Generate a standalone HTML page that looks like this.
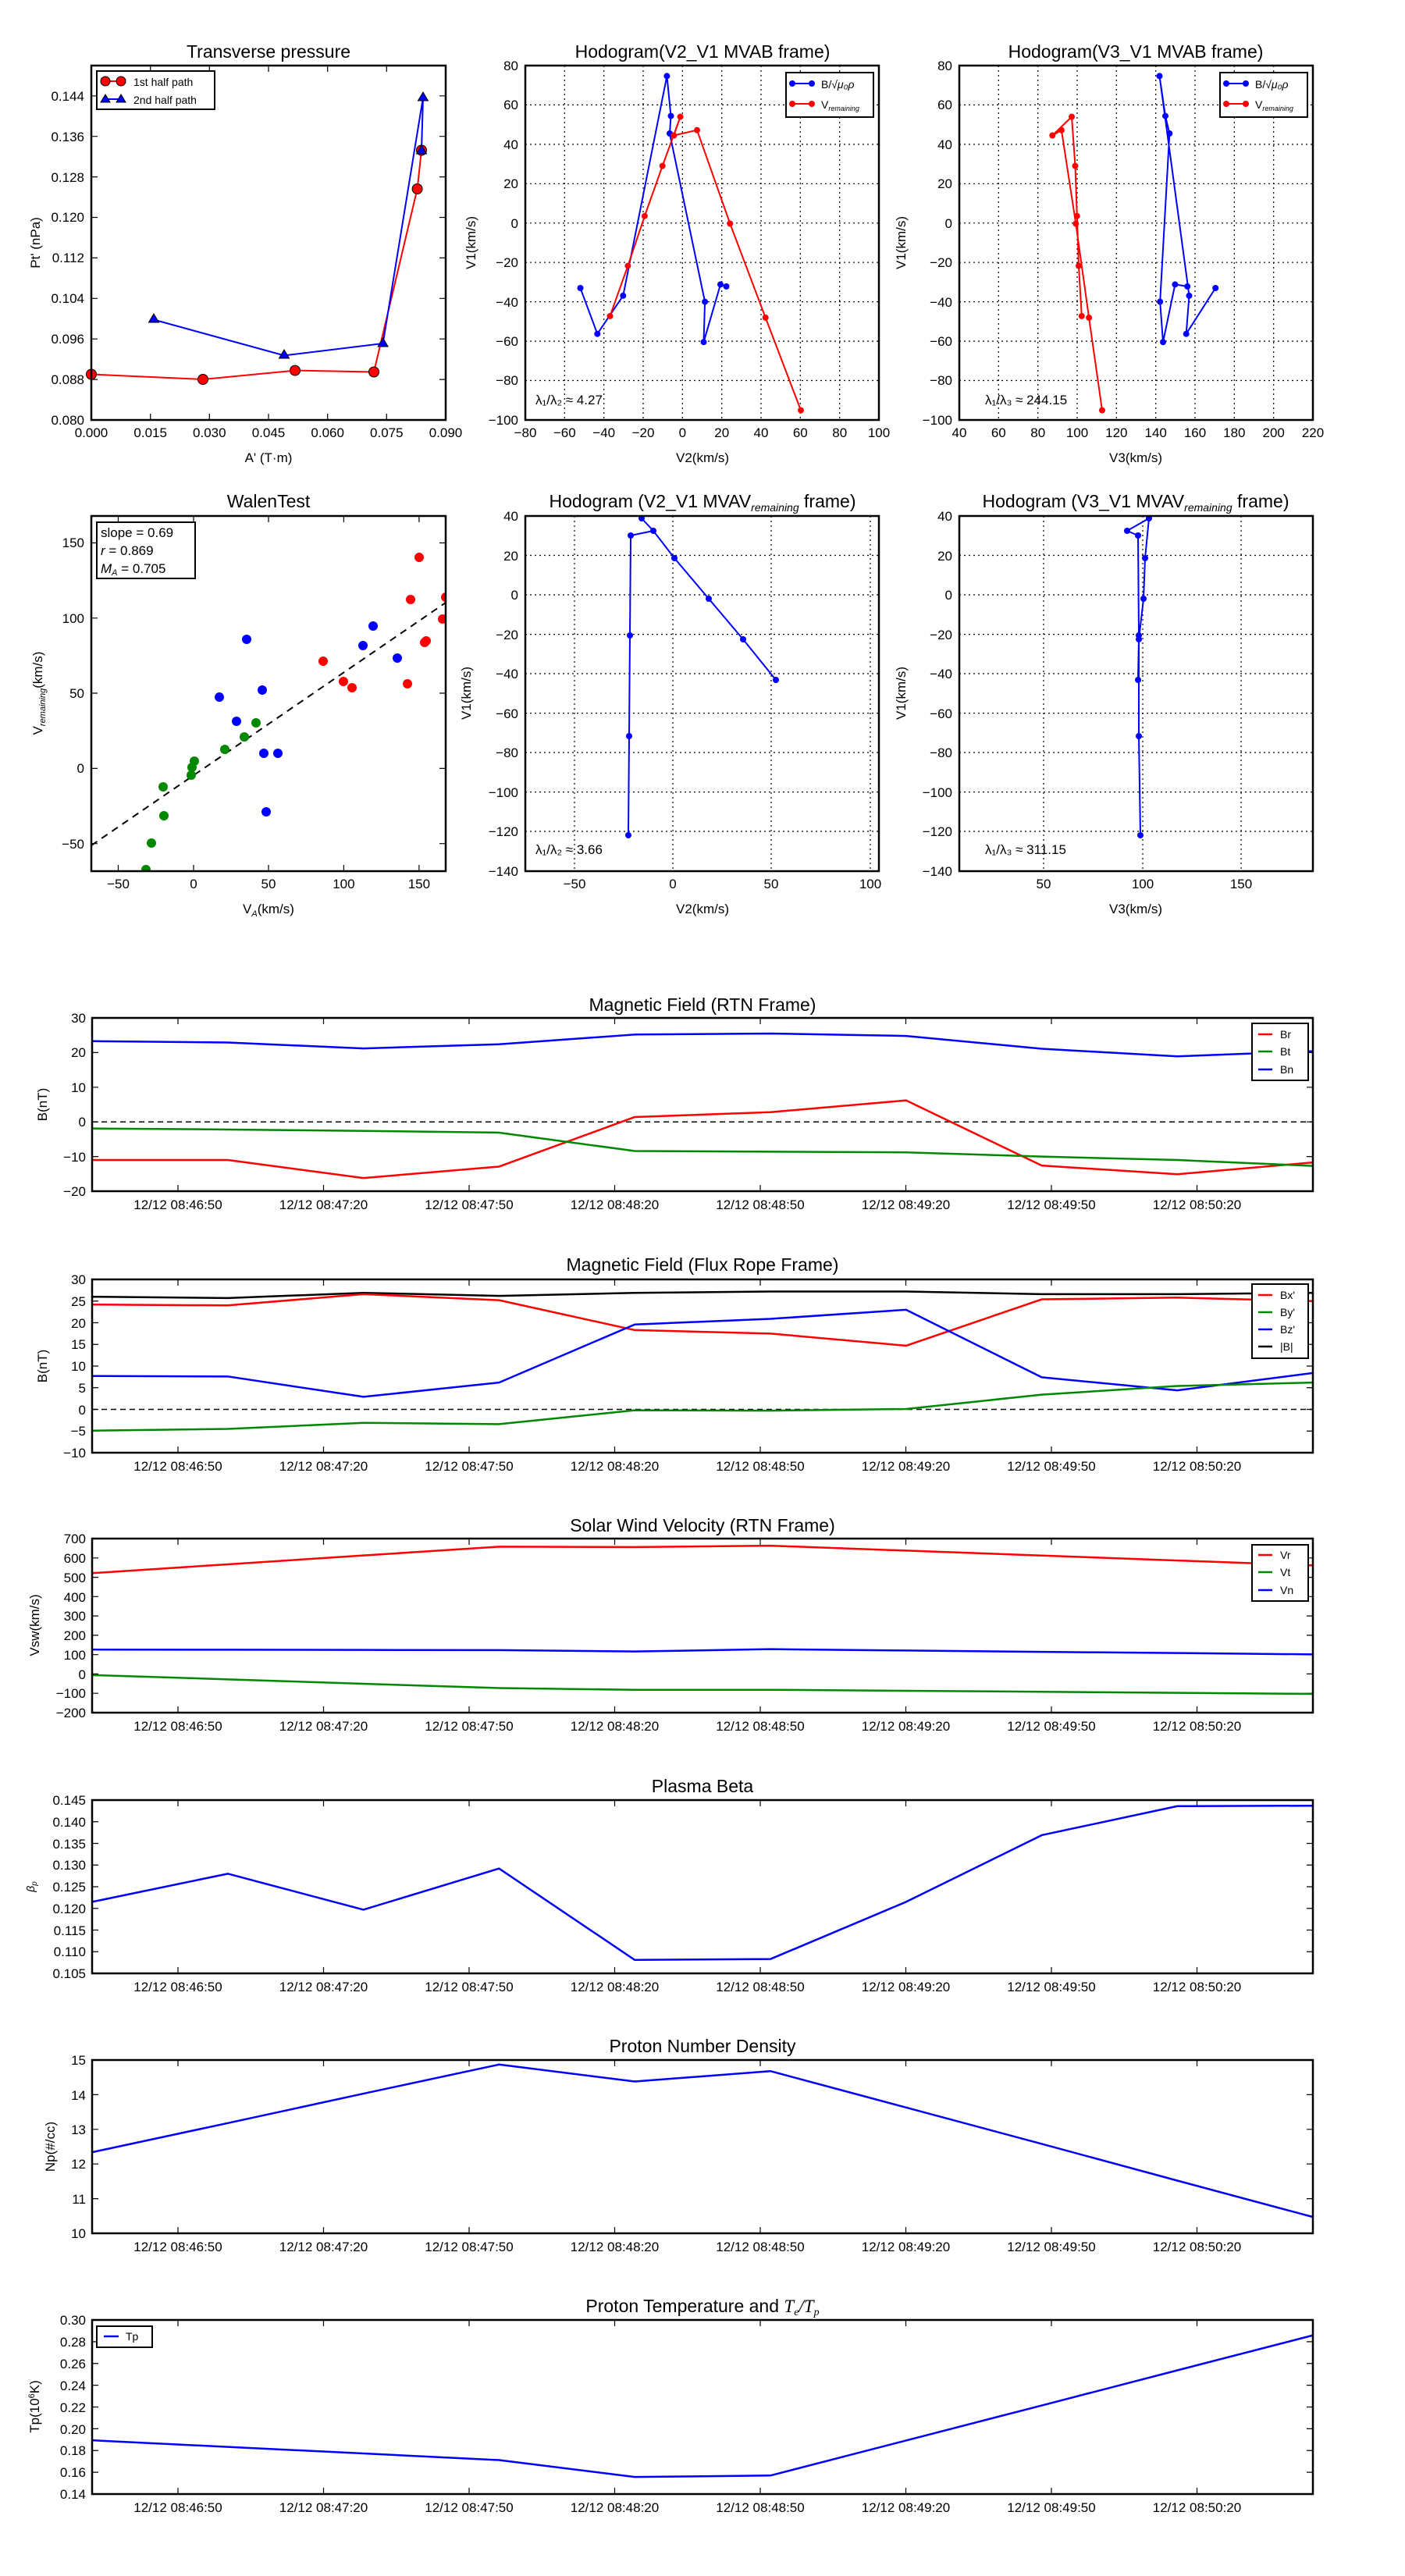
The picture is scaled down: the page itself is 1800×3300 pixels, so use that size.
<!DOCTYPE html>
<html><head><meta charset="utf-8"><style>
html,body{margin:0;padding:0;background:#fff}
svg{display:block}
text{font-family:"Liberation Sans","DejaVu Sans",sans-serif;fill:#000}
.t{font-size:17px}
.ti{font-size:23px}
.ax{fill:none;stroke:#000;stroke-width:2.5}
.tk{stroke:#000;stroke-width:1.2;fill:none}
.gd{stroke:#000;stroke-width:1.2;stroke-dasharray:2,4;fill:none}
.ln{fill:none;stroke-width:2.5;vector-effect:non-scaling-stroke;stroke-linejoin:round}
.th{fill:none;stroke-width:2;stroke-linejoin:round}
</style></head><body>
<svg width="1800" height="3300" viewBox="0 0 1800 3300" xmlns="http://www.w3.org/2000/svg">
<rect width="1800" height="3300" fill="#fff"/>

<!-- ===== Transverse pressure ===== -->
<text class="ti" x="344" y="74" text-anchor="middle">Transverse pressure</text>
<path class="tk" d="M192.7,538v-8M268.3,538v-8M344,538v-8M419.7,538v-8M495.3,538v-8M192.7,84v8M268.3,84v8M344,84v8M419.7,84v8M495.3,84v8M117,486.1h8M117,434.2h8M117,382.3h8M117,330.4h8M117,278.5h8M117,226.6h8M117,174.7h8M117,122.8h8M571,486.1h-8M571,434.2h-8M571,382.3h-8M571,330.4h-8M571,278.5h-8M571,226.6h-8M571,174.7h-8M571,122.8h-8"/>
<g class="t" text-anchor="end">
<text x="108" y="544">0.080</text><text x="108" y="492">0.088</text><text x="108" y="440">0.096</text><text x="108" y="388">0.104</text><text x="108" y="336">0.112</text><text x="108" y="284">0.120</text><text x="108" y="233">0.128</text><text x="108" y="181">0.136</text><text x="108" y="129">0.144</text>
</g>
<g class="t" text-anchor="middle">
<text x="117" y="560">0.000</text><text x="192.7" y="560">0.015</text><text x="268.3" y="560">0.030</text><text x="344" y="560">0.045</text><text x="419.7" y="560">0.060</text><text x="495.3" y="560">0.075</text><text x="571" y="560">0.090</text>
<text x="344" y="592">A' (T·m)</text>
</g>
<text class="t" x="0" y="0" text-anchor="middle" transform="translate(51,311) rotate(-90)">Pt' (nPa)</text>
<polyline class="th" stroke="#f00" points="117,479.5 260,486 378,474.6 479,476.5 534.6,242 540,192.5"/>
<polyline class="th" stroke="#00f" points="197,409.5 364,455.4 490.6,440 542,125 540,192.5"/>
<g fill="#f00" stroke="#000" stroke-width="1"><circle cx="117" cy="479.5" r="6.5"/><circle cx="260" cy="486" r="6.5"/><circle cx="378" cy="474.6" r="6.5"/><circle cx="479" cy="476.5" r="6.5"/><circle cx="534.6" cy="242" r="6.5"/><circle cx="540" cy="192.5" r="6.5"/></g>
<g fill="#00f" stroke="#000" stroke-width="1"><path d="M197,402l6.5,11h-13z"/><path d="M364,448l6.5,11h-13z"/><path d="M490.6,433l6.5,11h-13z"/><path d="M542,118l6.5,11h-13z"/><path d="M540,186l6.5,11h-13z"/></g>
<rect x="124" y="91" width="151" height="49" fill="#fff" stroke="#000" stroke-width="2"/>
<line x1="135" y1="104" x2="155" y2="104" stroke="#f00" stroke-width="2"/><circle cx="135" cy="104" r="6" fill="#f00" stroke="#000"/><circle cx="155" cy="104" r="6" fill="#f00" stroke="#000"/>
<line x1="135" y1="127" x2="155" y2="127" stroke="#00f" stroke-width="2"/><path d="M135,121l6,10h-12zM155,121l6,10h-12z" fill="#00f" stroke="#000"/>
<text x="171" y="110" font-size="14">1st half path</text><text x="171" y="133" font-size="14">2nd half path</text>
<rect class="ax" x="117" y="84" width="454" height="454"/>

<!-- ===== Hodogram V2_V1 MVAB ===== -->
<text class="ti" x="900" y="74" text-anchor="middle">Hodogram(V2_V1 MVAB frame)</text>
<path class="gd" d="M723.3,84V538M773.7,84V538M824,84V538M874.3,84V538M924.7,84V538M975,84V538M1025.3,84V538M1075.7,84V538M673,134.4H1126M673,184.9H1126M673,235.3H1126M673,285.8H1126M673,336.2H1126M673,386.6H1126M673,437.1H1126M673,487.5H1126"/>
<g class="t" text-anchor="end">
<text x="664" y="90">80</text><text x="664" y="140">60</text><text x="664" y="191">40</text><text x="664" y="241">20</text><text x="664" y="292">0</text><text x="664" y="342">−20</text><text x="664" y="393">−40</text><text x="664" y="443">−60</text><text x="664" y="493">−80</text><text x="664" y="544">−100</text>
</g>
<g class="t" text-anchor="middle">
<text x="673" y="560">−80</text><text x="723.3" y="560">−60</text><text x="773.7" y="560">−40</text><text x="824" y="560">−20</text><text x="874.3" y="560">0</text><text x="924.7" y="560">20</text><text x="975" y="560">40</text><text x="1025.3" y="560">60</text><text x="1075.7" y="560">80</text><text x="1126" y="560">100</text>
<text x="900" y="592">V2(km/s)</text>
</g>
<text class="t" text-anchor="middle" transform="translate(609,311) rotate(-90)">V1(km/s)</text>
<polyline class="th" stroke="#00f" points="743.5,369 765.3,427.7 798.3,378.8 854.4,97.4 859.5,148.6 858,171 903.1,386.6 901.5,438.2 923,364.4 930.5,366.9"/>
<polyline class="th" stroke="#f00" points="781.5,404.9 804.4,340.6 825.9,276.7 848.7,212.6 871.6,149.6 863.3,173.5 893,166.7 935.3,286.5 980.7,406.9 1026,525.6"/>
<g fill="#00f"><circle cx="743.5" cy="369" r="4"/><circle cx="765.3" cy="427.7" r="4"/><circle cx="798.3" cy="378.8" r="4"/><circle cx="854.4" cy="97.4" r="4"/><circle cx="859.5" cy="148.6" r="4"/><circle cx="858" cy="171" r="4"/><circle cx="903.1" cy="386.6" r="4"/><circle cx="901.5" cy="438.2" r="4"/><circle cx="923" cy="364.4" r="4"/><circle cx="930.5" cy="366.9" r="4"/></g>
<g fill="#f00"><circle cx="781.5" cy="404.9" r="4"/><circle cx="804.4" cy="340.6" r="4"/><circle cx="825.9" cy="276.7" r="4"/><circle cx="848.7" cy="212.6" r="4"/><circle cx="871.6" cy="149.6" r="4"/><circle cx="863.3" cy="173.5" r="4"/><circle cx="893" cy="166.7" r="4"/><circle cx="935.3" cy="286.5" r="4"/><circle cx="980.7" cy="406.9" r="4"/><circle cx="1026" cy="525.6" r="4"/></g>
<text x="686" y="518" font-size="17">λ₁/λ₂ ≈ 4.27</text>
<rect x="1007" y="93" width="112" height="57" fill="#fff" stroke="#000" stroke-width="2"/>
<line x1="1015" y1="107" x2="1040" y2="107" stroke="#00f" stroke-width="2"/><circle cx="1015" cy="107" r="4" fill="#00f"/><circle cx="1040" cy="107" r="4" fill="#00f"/>
<line x1="1015" y1="133" x2="1040" y2="133" stroke="#f00" stroke-width="2"/><circle cx="1015" cy="133" r="4" fill="#f00"/><circle cx="1040" cy="133" r="4" fill="#f00"/>
<text x="1052" y="113" font-size="14">B/√<tspan font-style="italic">μ₀ρ</tspan></text><text x="1052" y="139" font-size="14">V<tspan font-size="9" font-style="italic" dy="3">remaining</tspan></text>
<rect class="ax" x="673" y="84" width="453" height="454"/>

<!-- ===== Hodogram V3_V1 MVAB ===== -->
<text class="ti" x="1455" y="74" text-anchor="middle">Hodogram(V3_V1 MVAB frame)</text>
<path class="gd" d="M1279.3,84V538M1329.7,84V538M1380,84V538M1430.3,84V538M1480.7,84V538M1531,84V538M1581.3,84V538M1631.7,84V538M1229,134.4H1682M1229,184.9H1682M1229,235.3H1682M1229,285.8H1682M1229,336.2H1682M1229,386.6H1682M1229,437.1H1682M1229,487.5H1682"/>
<g class="t" text-anchor="end">
<text x="1220" y="90">80</text><text x="1220" y="140">60</text><text x="1220" y="191">40</text><text x="1220" y="241">20</text><text x="1220" y="292">0</text><text x="1220" y="342">−20</text><text x="1220" y="393">−40</text><text x="1220" y="443">−60</text><text x="1220" y="493">−80</text><text x="1220" y="544">−100</text>
</g>
<g class="t" text-anchor="middle">
<text x="1229" y="560">40</text><text x="1279.3" y="560">60</text><text x="1329.7" y="560">80</text><text x="1380" y="560">100</text><text x="1430.3" y="560">120</text><text x="1480.7" y="560">140</text><text x="1531" y="560">160</text><text x="1581.3" y="560">180</text><text x="1631.7" y="560">200</text><text x="1682" y="560">220</text>
<text x="1455" y="592">V3(km/s)</text>
</g>
<text class="t" text-anchor="middle" transform="translate(1160,311) rotate(-90)">V1(km/s)</text>
<polyline class="th" stroke="#00f" points="1557.2,369 1519.7,427.7 1523.5,378.8 1485.5,97.4 1493,148.6 1498.3,171 1486.2,386.6 1490,438.2 1505.4,364.4 1521.2,366.9"/>
<polyline class="th" stroke="#f00" points="1385.8,404.9 1382,340.6 1379.8,276.7 1377.5,212.6 1373,149.6 1348.3,173.5 1359.9,166.7 1378.3,286.5 1395.1,406.9 1412,525.6"/>
<g fill="#00f"><circle cx="1557.2" cy="369" r="4"/><circle cx="1519.7" cy="427.7" r="4"/><circle cx="1523.5" cy="378.8" r="4"/><circle cx="1485.5" cy="97.4" r="4"/><circle cx="1493" cy="148.6" r="4"/><circle cx="1498.3" cy="171" r="4"/><circle cx="1486.2" cy="386.6" r="4"/><circle cx="1490" cy="438.2" r="4"/><circle cx="1505.4" cy="364.4" r="4"/><circle cx="1521.2" cy="366.9" r="4"/></g>
<g fill="#f00"><circle cx="1385.8" cy="404.9" r="4"/><circle cx="1382" cy="340.6" r="4"/><circle cx="1379.8" cy="276.7" r="4"/><circle cx="1377.5" cy="212.6" r="4"/><circle cx="1373" cy="149.6" r="4"/><circle cx="1348.3" cy="173.5" r="4"/><circle cx="1359.9" cy="166.7" r="4"/><circle cx="1378.3" cy="286.5" r="4"/><circle cx="1395.1" cy="406.9" r="4"/><circle cx="1412" cy="525.6" r="4"/></g>
<text x="1262" y="518" font-size="17">λ₁/λ₃ ≈ 244.15</text>
<rect x="1563" y="93" width="112" height="57" fill="#fff" stroke="#000" stroke-width="2"/>
<line x1="1571" y1="107" x2="1596" y2="107" stroke="#00f" stroke-width="2"/><circle cx="1571" cy="107" r="4" fill="#00f"/><circle cx="1596" cy="107" r="4" fill="#00f"/>
<line x1="1571" y1="133" x2="1596" y2="133" stroke="#f00" stroke-width="2"/><circle cx="1571" cy="133" r="4" fill="#f00"/><circle cx="1596" cy="133" r="4" fill="#f00"/>
<text x="1608" y="113" font-size="14">B/√<tspan font-style="italic">μ₀ρ</tspan></text><text x="1608" y="139" font-size="14">V<tspan font-size="9" font-style="italic" dy="3">remaining</tspan></text>
<rect class="ax" x="1229" y="84" width="453" height="454"/>

<!-- ===== WalenTest ===== -->
<text class="ti" x="344" y="650" text-anchor="middle">WalenTest</text>
<path class="tk" d="M151.5,1116v-8M248,1116v-8M344,1116v-8M440.4,1116v-8M536.9,1116v-8M151.5,661v8M248,661v8M344,661v8M440.4,661v8M536.9,661v8M117,695.5h8M117,791.8h8M117,888h8M117,984.4h8M117,1080.7h8M571,695.5h-8M571,791.8h-8M571,888h-8M571,984.4h-8M571,1080.7h-8"/>
<g class="t" text-anchor="end">
<text x="108" y="701">150</text><text x="108" y="798">100</text><text x="108" y="894">50</text><text x="108" y="990">0</text><text x="108" y="1087">−50</text>
</g>
<g class="t" text-anchor="middle">
<text x="151.5" y="1138">−50</text><text x="248" y="1138">0</text><text x="344" y="1138">50</text><text x="440.4" y="1138">100</text><text x="536.9" y="1138">150</text>
<text x="344" y="1170">V<tspan font-size="11" dy="4" font-style="italic">A</tspan><tspan dy="-4">(km/s)</tspan></text>
</g>
<text class="t" text-anchor="middle" transform="translate(54,888) rotate(-90)">V<tspan font-size="11" font-style="italic" dy="4">remaining</tspan><tspan dy="-4">(km/s)</tspan></text>
<svg x="117" y="661" width="454" height="455" overflow="hidden">
<g transform="translate(-117,-661)">
<line x1="117" y1="1083" x2="571" y2="772" stroke="#000" stroke-width="2" stroke-dasharray="9,7"/>
<g fill="#f00"><circle cx="537" cy="714" r="6"/><circle cx="526" cy="768" r="6"/><circle cx="571" cy="765" r="6"/><circle cx="567" cy="793" r="6"/><circle cx="546" cy="821" r="6"/><circle cx="544" cy="823" r="6"/><circle cx="414" cy="847" r="6"/><circle cx="440" cy="873" r="6"/><circle cx="451" cy="881" r="6"/><circle cx="522" cy="876" r="6"/></g>
<g fill="#00f"><circle cx="316" cy="819" r="6"/><circle cx="478" cy="802" r="6"/><circle cx="465" cy="827" r="6"/><circle cx="509" cy="843" r="6"/><circle cx="336" cy="884" r="6"/><circle cx="281" cy="893" r="6"/><circle cx="303" cy="924" r="6"/><circle cx="338" cy="965" r="6"/><circle cx="356" cy="965" r="6"/><circle cx="341" cy="1040" r="6"/></g>
<g fill="#080"><circle cx="328" cy="926" r="6"/><circle cx="313" cy="944" r="6"/><circle cx="288" cy="960" r="6"/><circle cx="249" cy="975" r="6"/><circle cx="246" cy="983" r="6"/><circle cx="245" cy="993" r="6"/><circle cx="209" cy="1008" r="6"/><circle cx="210" cy="1045" r="6"/><circle cx="194" cy="1080" r="6"/><circle cx="187" cy="1114" r="6"/></g>
</g></svg>
<rect x="124" y="669" width="126" height="72" fill="#fff" stroke="#000" stroke-width="2"/>
<text x="129" y="688" font-size="17">slope = 0.69</text>
<text x="129" y="711" font-size="17"><tspan font-style="italic">r</tspan> = 0.869</text>
<text x="129" y="734" font-size="17"><tspan font-style="italic">M<tspan font-size="11" dy="3">A</tspan></tspan><tspan dy="-3"> = 0.705</tspan></text>
<rect class="ax" x="117" y="661" width="454" height="455"/>

<!-- ===== Hodogram V2_V1 MVAV ===== -->
<text class="ti" x="900" y="650" text-anchor="middle">Hodogram (V2_V1 MVAV<tspan font-size="14" font-style="italic" dy="5">remaining</tspan><tspan dy="-5"> frame)</tspan></text>
<path class="gd" d="M736,661V1116M862,661V1116M988,661V1116M1115,661V1116M673,711.5H1126M673,762H1126M673,812.6H1126M673,863H1126M673,913.6H1126M673,964H1126M673,1014.6H1126M673,1065H1126"/>
<g class="t" text-anchor="end">
<text x="664" y="667">40</text><text x="664" y="718">20</text><text x="664" y="768">0</text><text x="664" y="819">−20</text><text x="664" y="869">−40</text><text x="664" y="920">−60</text><text x="664" y="970">−80</text><text x="664" y="1021">−100</text><text x="664" y="1071">−120</text><text x="664" y="1122">−140</text>
</g>
<g class="t" text-anchor="middle">
<text x="736" y="1138">−50</text><text x="862" y="1138">0</text><text x="988" y="1138">50</text><text x="1115" y="1138">100</text>
<text x="900" y="1170">V2(km/s)</text>
</g>
<text class="t" text-anchor="middle" transform="translate(603,888) rotate(-90)">V1(km/s)</text>
<polyline class="th" stroke="#00f" points="805,1070 806,943 807,814 808,686 837,680 822,664 837,680 864,715 908,767 952,819 994,871"/>
<g fill="#00f"><circle cx="805" cy="1070" r="4"/><circle cx="806" cy="943" r="4"/><circle cx="807" cy="814" r="4"/><circle cx="808" cy="686" r="4"/><circle cx="837" cy="680" r="4"/><circle cx="822" cy="664" r="4"/><circle cx="864" cy="715" r="4"/><circle cx="908" cy="767" r="4"/><circle cx="952" cy="819" r="4"/><circle cx="994" cy="871" r="4"/></g>
<text x="686" y="1094" font-size="17">λ₁/λ₂ ≈ 3.66</text>
<rect class="ax" x="673" y="661" width="453" height="455"/>

<!-- ===== Hodogram V3_V1 MVAV ===== -->
<text class="ti" x="1455" y="650" text-anchor="middle">Hodogram (V3_V1 MVAV<tspan font-size="14" font-style="italic" dy="5">remaining</tspan><tspan dy="-5"> frame)</tspan></text>
<path class="gd" d="M1337,661V1116M1464,661V1116M1590,661V1116M1229,711.5H1682M1229,762H1682M1229,812.6H1682M1229,863H1682M1229,913.6H1682M1229,964H1682M1229,1014.6H1682M1229,1065H1682"/>
<g class="t" text-anchor="end">
<text x="1220" y="667">40</text><text x="1220" y="718">20</text><text x="1220" y="768">0</text><text x="1220" y="819">−20</text><text x="1220" y="869">−40</text><text x="1220" y="920">−60</text><text x="1220" y="970">−80</text><text x="1220" y="1021">−100</text><text x="1220" y="1071">−120</text><text x="1220" y="1122">−140</text>
</g>
<g class="t" text-anchor="middle">
<text x="1337" y="1138">50</text><text x="1464" y="1138">100</text><text x="1590" y="1138">150</text>
<text x="1455" y="1170">V3(km/s)</text>
</g>
<text class="t" text-anchor="middle" transform="translate(1160,888) rotate(-90)">V1(km/s)</text>
<polyline class="th" stroke="#00f" points="1461,1070 1459,943 1459,814 1458,686 1444,680 1472,664 1467,715 1465,767 1459,819 1458,871"/>
<g fill="#00f"><circle cx="1461" cy="1070" r="4"/><circle cx="1459" cy="943" r="4"/><circle cx="1459" cy="814" r="4"/><circle cx="1458" cy="686" r="4"/><circle cx="1444" cy="680" r="4"/><circle cx="1472" cy="664" r="4"/><circle cx="1467" cy="715" r="4"/><circle cx="1465" cy="767" r="4"/><circle cx="1459" cy="819" r="4"/><circle cx="1458" cy="871" r="4"/></g>
<text x="1262" y="1094" font-size="17">λ₁/λ₃ ≈ 311.15</text>
<rect class="ax" x="1229" y="661" width="453" height="455"/>

<!-- ===== Time series panels ===== -->
<defs>
<clipPath id="c1"><rect x="118" y="1304" width="1564" height="222"/></clipPath>
<clipPath id="c2"><rect x="118" y="1639" width="1564" height="222"/></clipPath>
<clipPath id="c3"><rect x="118" y="1971" width="1564" height="223"/></clipPath>
<clipPath id="c4"><rect x="118" y="2306" width="1564" height="222"/></clipPath>
<clipPath id="c5"><rect x="118" y="2639" width="1564" height="222"/></clipPath>
<clipPath id="c6"><rect x="118" y="2972" width="1564" height="223"/></clipPath>
</defs>

<!-- Panel 1 -->
<text class="ti" x="900" y="1295" text-anchor="middle">Magnetic Field (RTN Frame)</text>
<path class="tk" d="M228,1526v-8M414.5,1526v-8M601,1526v-8M787.5,1526v-8M974,1526v-8M1160.5,1526v-8M1347,1526v-8M1533.5,1526v-8M228,1304v8M414.5,1304v8M601,1304v8M787.5,1304v8M974,1304v8M1160.5,1304v8M1347,1304v8M1533.5,1304v8M118,1481.6h8M118,1437.2h8M118,1392.8h8M118,1348.4h8M1682,1481.6h-8M1682,1437.2h-8M1682,1392.8h-8M1682,1348.4h-8"/>
<line x1="118" y1="1437.2" x2="1682" y2="1437.2" stroke="#000" stroke-width="1.5" stroke-dasharray="7,5"/>
<g clip-path="url(#c1)"><g transform="translate(118,1437.2) scale(173.8,-4.44)">
<polyline class="ln" stroke="#00f" points="0,23.3 1,22.9 2,21.2 3,22.4 4,25.2 5,25.5 6,24.8 7,21.1 8,18.9 9,20.4"/>
<polyline class="ln" stroke="#f00" points="0,-11 1,-11 2,-16.2 3,-12.9 4,1.4 5,2.8 6,6.2 7,-12.6 8,-15.1 9,-11.7"/>
<polyline class="ln" stroke="#080" points="0,-1.9 1,-2.2 2,-2.6 3,-3.1 4,-8.4 5,-8.6 6,-8.8 7,-10 8,-11 9,-12.7"/>
</g></g>
<g class="t" text-anchor="end"><text x="110" y="1532">−20</text><text x="110" y="1488">−10</text><text x="110" y="1443">0</text><text x="110" y="1399">10</text><text x="110" y="1354">20</text><text x="110" y="1310">30</text></g>
<text class="t" text-anchor="middle" transform="translate(60,1415) rotate(-90)">B(nT)</text>
<rect x="1604" y="1311" width="72" height="73" fill="#fff" stroke="#000" stroke-width="2"/>
<g stroke-width="2.5"><line x1="1612" y1="1325" x2="1630" y2="1325" stroke="#f00"/><line x1="1612" y1="1347" x2="1630" y2="1347" stroke="#080"/><line x1="1612" y1="1370" x2="1630" y2="1370" stroke="#00f"/></g>
<g font-size="14"><text x="1640" y="1330">Br</text><text x="1640" y="1352">Bt</text><text x="1640" y="1375">Bn</text></g>
<rect class="ax" x="118" y="1304" width="1564" height="222"/>
<g class="t" text-anchor="middle"><text x="228" y="1549">12/12 08:46:50</text><text x="414.5" y="1549">12/12 08:47:20</text><text x="601" y="1549">12/12 08:47:50</text><text x="787.5" y="1549">12/12 08:48:20</text><text x="974" y="1549">12/12 08:48:50</text><text x="1160.5" y="1549">12/12 08:49:20</text><text x="1347" y="1549">12/12 08:49:50</text><text x="1533.5" y="1549">12/12 08:50:20</text></g>

<!-- Panel 2 -->
<text class="ti" x="900" y="1628" text-anchor="middle">Magnetic Field (Flux Rope Frame)</text>
<path class="tk" d="M228,1861v-8M414.5,1861v-8M601,1861v-8M787.5,1861v-8M974,1861v-8M1160.5,1861v-8M1347,1861v-8M1533.5,1861v-8M228,1639v8M414.5,1639v8M601,1639v8M787.5,1639v8M974,1639v8M1160.5,1639v8M1347,1639v8M1533.5,1639v8M118,1833.25h8M118,1805.5h8M118,1777.75h8M118,1750h8M118,1722.25h8M118,1694.5h8M118,1666.75h8M1682,1833.25h-8M1682,1805.5h-8M1682,1777.75h-8M1682,1750h-8M1682,1722.25h-8M1682,1694.5h-8M1682,1666.75h-8"/>
<line x1="118" y1="1805.5" x2="1682" y2="1805.5" stroke="#000" stroke-width="1.5" stroke-dasharray="7,5"/>
<g clip-path="url(#c2)"><g transform="translate(118,1805.5) scale(173.8,-5.55)">
<polyline class="ln" stroke="#000" points="0,26 1,25.7 2,26.9 3,26.2 4,26.9 5,27.2 6,27.2 7,26.6 8,26.6 9,26.9"/>
<polyline class="ln" stroke="#f00" points="0,24.2 1,24 2,26.6 3,25.2 4,18.3 5,17.5 6,14.7 7,25.4 8,25.8 9,25"/>
<polyline class="ln" stroke="#00f" points="0,7.7 1,7.6 2,2.9 3,6.2 4,19.6 5,20.9 6,23 7,7.4 8,4.4 9,8.4"/>
<polyline class="ln" stroke="#080" points="0,-4.9 1,-4.5 2,-3.1 3,-3.4 4,-0.2 5,-0.3 6,0.1 7,3.4 8,5.4 9,6.2"/>
</g></g>
<g class="t" text-anchor="end"><text x="110" y="1867">−10</text><text x="110" y="1839">−5</text><text x="110" y="1812">0</text><text x="110" y="1784">5</text><text x="110" y="1756">10</text><text x="110" y="1728">15</text><text x="110" y="1701">20</text><text x="110" y="1673">25</text><text x="110" y="1645">30</text></g>
<text class="t" text-anchor="middle" transform="translate(60,1750) rotate(-90)">B(nT)</text>
<rect x="1604" y="1645" width="72" height="95" fill="#fff" stroke="#000" stroke-width="2"/>
<g stroke-width="2.5"><line x1="1612" y1="1659" x2="1630" y2="1659" stroke="#f00"/><line x1="1612" y1="1681" x2="1630" y2="1681" stroke="#080"/><line x1="1612" y1="1703" x2="1630" y2="1703" stroke="#00f"/><line x1="1612" y1="1725" x2="1630" y2="1725" stroke="#000"/></g>
<g font-size="14"><text x="1640" y="1664">Bx'</text><text x="1640" y="1686">By'</text><text x="1640" y="1708">Bz'</text><text x="1640" y="1730">|B|</text></g>
<rect class="ax" x="118" y="1639" width="1564" height="222"/>
<g class="t" text-anchor="middle"><text x="228" y="1884">12/12 08:46:50</text><text x="414.5" y="1884">12/12 08:47:20</text><text x="601" y="1884">12/12 08:47:50</text><text x="787.5" y="1884">12/12 08:48:20</text><text x="974" y="1884">12/12 08:48:50</text><text x="1160.5" y="1884">12/12 08:49:20</text><text x="1347" y="1884">12/12 08:49:50</text><text x="1533.5" y="1884">12/12 08:50:20</text></g>

<!-- Panel 3 -->
<text class="ti" x="900" y="1962" text-anchor="middle">Solar Wind Velocity (RTN Frame)</text>
<path class="tk" d="M228,2194v-8M414.5,2194v-8M601,2194v-8M787.5,2194v-8M974,2194v-8M1160.5,2194v-8M1347,2194v-8M1533.5,2194v-8M228,1971v8M414.5,1971v8M601,1971v8M787.5,1971v8M974,1971v8M1160.5,1971v8M1347,1971v8M1533.5,1971v8M118,2169.2h8M118,2144.4h8M118,2119.7h8M118,2094.9h8M118,2070.1h8M118,2045.3h8M118,2020.6h8M118,1995.8h8M1682,2169.2h-8M1682,2144.4h-8M1682,2119.7h-8M1682,2094.9h-8M1682,2070.1h-8M1682,2045.3h-8M1682,2020.6h-8M1682,1995.8h-8"/>
<g clip-path="url(#c3)"><g transform="translate(118,2144.4) scale(173.8,-0.2478)">
<polyline class="ln" stroke="#f00" points="0,521 1,566.7 2,612.3 3,658 4,656 5,663 6,637.5 7,612 8,586.5 9,561"/>
<polyline class="ln" stroke="#00f" points="0,126 1,125 2,124 3,123 4,116 5,128 6,121 7,114 8,108 9,101"/>
<polyline class="ln" stroke="#080" points="0,-6 1,-28 2,-51 3,-73 4,-82 5,-82 6,-87 7,-92 8,-98 9,-103"/>
</g></g>
<g class="t" text-anchor="end"><text x="110" y="2200">−200</text><text x="110" y="2175">−100</text><text x="110" y="2151">0</text><text x="110" y="2126">100</text><text x="110" y="2101">200</text><text x="110" y="2076">300</text><text x="110" y="2052">400</text><text x="110" y="2027">500</text><text x="110" y="2002">600</text><text x="110" y="1977">700</text></g>
<text class="t" text-anchor="middle" transform="translate(50,2082) rotate(-90)">Vsw(km/s)</text>
<rect x="1604" y="1979" width="72" height="72" fill="#fff" stroke="#000" stroke-width="2"/>
<g stroke-width="2.5"><line x1="1612" y1="1992" x2="1630" y2="1992" stroke="#f00"/><line x1="1612" y1="2014" x2="1630" y2="2014" stroke="#080"/><line x1="1612" y1="2037" x2="1630" y2="2037" stroke="#00f"/></g>
<g font-size="14"><text x="1640" y="1997">Vr</text><text x="1640" y="2019">Vt</text><text x="1640" y="2042">Vn</text></g>
<rect class="ax" x="118" y="1971" width="1564" height="223"/>
<g class="t" text-anchor="middle"><text x="228" y="2217">12/12 08:46:50</text><text x="414.5" y="2217">12/12 08:47:20</text><text x="601" y="2217">12/12 08:47:50</text><text x="787.5" y="2217">12/12 08:48:20</text><text x="974" y="2217">12/12 08:48:50</text><text x="1160.5" y="2217">12/12 08:49:20</text><text x="1347" y="2217">12/12 08:49:50</text><text x="1533.5" y="2217">12/12 08:50:20</text></g>

<!-- Panel 4 -->
<text class="ti" x="900" y="2296" text-anchor="middle">Plasma Beta</text>
<path class="tk" d="M228,2528v-8M414.5,2528v-8M601,2528v-8M787.5,2528v-8M974,2528v-8M1160.5,2528v-8M1347,2528v-8M1533.5,2528v-8M228,2306v8M414.5,2306v8M601,2306v8M787.5,2306v8M974,2306v8M1160.5,2306v8M1347,2306v8M1533.5,2306v8M118,2500.25h8M118,2472.5h8M118,2444.75h8M118,2417h8M118,2389.25h8M118,2361.5h8M118,2333.75h8M1682,2500.25h-8M1682,2472.5h-8M1682,2444.75h-8M1682,2417h-8M1682,2389.25h-8M1682,2361.5h-8M1682,2333.75h-8"/>
<g clip-path="url(#c4)"><g transform="translate(118,2528) scale(173.8,-5.55)">
<polyline class="ln" stroke="#00f" points="0,16.5 1,23 2,14.7 3,24.2 4,3.1 5,3.3 6,16.5 7,31.9 8,38.6 9,38.7"/>
</g></g>
<g class="t" text-anchor="end"><text x="110" y="2534">0.105</text><text x="110" y="2506">0.110</text><text x="110" y="2479">0.115</text><text x="110" y="2451">0.120</text><text x="110" y="2423">0.125</text><text x="110" y="2395">0.130</text><text x="110" y="2368">0.135</text><text x="110" y="2340">0.140</text><text x="110" y="2312">0.145</text></g>
<text x="0" y="0" font-size="14" font-style="italic" text-anchor="middle" transform="translate(44,2417) rotate(-90)">β<tspan font-size="10" dy="3">p</tspan></text>
<rect class="ax" x="118" y="2306" width="1564" height="222"/>
<g class="t" text-anchor="middle"><text x="228" y="2551">12/12 08:46:50</text><text x="414.5" y="2551">12/12 08:47:20</text><text x="601" y="2551">12/12 08:47:50</text><text x="787.5" y="2551">12/12 08:48:20</text><text x="974" y="2551">12/12 08:48:50</text><text x="1160.5" y="2551">12/12 08:49:20</text><text x="1347" y="2551">12/12 08:49:50</text><text x="1533.5" y="2551">12/12 08:50:20</text></g>

<!-- Panel 5 -->
<text class="ti" x="900" y="2629" text-anchor="middle">Proton Number Density</text>
<path class="tk" d="M228,2861v-8M414.5,2861v-8M601,2861v-8M787.5,2861v-8M974,2861v-8M1160.5,2861v-8M1347,2861v-8M1533.5,2861v-8M228,2639v8M414.5,2639v8M601,2639v8M787.5,2639v8M974,2639v8M1160.5,2639v8M1347,2639v8M1533.5,2639v8M118,2816.6h8M118,2772.2h8M118,2727.8h8M118,2683.4h8M1682,2816.6h-8M1682,2772.2h-8M1682,2727.8h-8M1682,2683.4h-8"/>
<g clip-path="url(#c5)"><g transform="translate(118,2861) scale(173.8,-44.4)">
<polyline class="ln" stroke="#00f" points="0,2.34 1,3.18 2,4.03 3,4.87 4,4.38 5,4.68 6,3.63 7,2.58 8,1.52 9,0.47"/>
</g></g>
<g class="t" text-anchor="end"><text x="110" y="2867">10</text><text x="110" y="2823">11</text><text x="110" y="2778">12</text><text x="110" y="2734">13</text><text x="110" y="2690">14</text><text x="110" y="2645">15</text></g>
<text class="t" text-anchor="middle" transform="translate(70,2750) rotate(-90)">Np(#/cc)</text>
<rect class="ax" x="118" y="2639" width="1564" height="222"/>
<g class="t" text-anchor="middle"><text x="228" y="2884">12/12 08:46:50</text><text x="414.5" y="2884">12/12 08:47:20</text><text x="601" y="2884">12/12 08:47:50</text><text x="787.5" y="2884">12/12 08:48:20</text><text x="974" y="2884">12/12 08:48:50</text><text x="1160.5" y="2884">12/12 08:49:20</text><text x="1347" y="2884">12/12 08:49:50</text><text x="1533.5" y="2884">12/12 08:50:20</text></g>

<!-- Panel 6 -->
<text class="ti" x="900" y="2962" text-anchor="middle">Proton Temperature and <tspan font-family="Liberation Serif,serif" font-style="italic">T<tspan font-size="14" dy="4">e</tspan><tspan dy="-4">/T</tspan><tspan font-size="14" dy="4">p</tspan></tspan></text>
<path class="tk" d="M228,3195v-8M414.5,3195v-8M601,3195v-8M787.5,3195v-8M974,3195v-8M1160.5,3195v-8M1347,3195v-8M1533.5,3195v-8M228,2972v8M414.5,2972v8M601,2972v8M787.5,2972v8M974,2972v8M1160.5,2972v8M1347,2972v8M1533.5,2972v8M118,3167.1h8M118,3139.25h8M118,3111.4h8M118,3083.5h8M118,3055.6h8M118,3027.75h8M118,2999.9h8M1682,3167.1h-8M1682,3139.25h-8M1682,3111.4h-8M1682,3083.5h-8M1682,3055.6h-8M1682,3027.75h-8M1682,2999.9h-8"/>
<g clip-path="url(#c6)"><g transform="translate(118,3195) scale(173.8,-13.94)">
<polyline class="ln" stroke="#00f" points="0,4.94 1,4.33 2,3.73 3,3.12 4,1.57 5,1.7 6,4.92 7,8.14 8,11.37 9,14.59"/>
</g></g>
<g class="t" text-anchor="end"><text x="110" y="3201">0.14</text><text x="110" y="3173">0.16</text><text x="110" y="3145">0.18</text><text x="110" y="3118">0.20</text><text x="110" y="3090">0.22</text><text x="110" y="3062">0.24</text><text x="110" y="3034">0.26</text><text x="110" y="3006">0.28</text><text x="110" y="2978">0.30</text></g>
<text class="t" text-anchor="middle" transform="translate(50,3083) rotate(-90)">Tp(10<tspan font-size="11" dy="-6">6</tspan><tspan dy="6">K)</tspan></text>
<rect x="124" y="2980" width="71" height="27" fill="#fff" stroke="#000" stroke-width="2"/>
<line x1="133" y1="2993" x2="152" y2="2993" stroke="#00f" stroke-width="2.5"/>
<text x="161" y="2998" font-size="14">Tp</text>
<rect class="ax" x="118" y="2972" width="1564" height="223"/>
<g class="t" text-anchor="middle"><text x="228" y="3218">12/12 08:46:50</text><text x="414.5" y="3218">12/12 08:47:20</text><text x="601" y="3218">12/12 08:47:50</text><text x="787.5" y="3218">12/12 08:48:20</text><text x="974" y="3218">12/12 08:48:50</text><text x="1160.5" y="3218">12/12 08:49:20</text><text x="1347" y="3218">12/12 08:49:50</text><text x="1533.5" y="3218">12/12 08:50:20</text></g>
</svg>
</body></html>
